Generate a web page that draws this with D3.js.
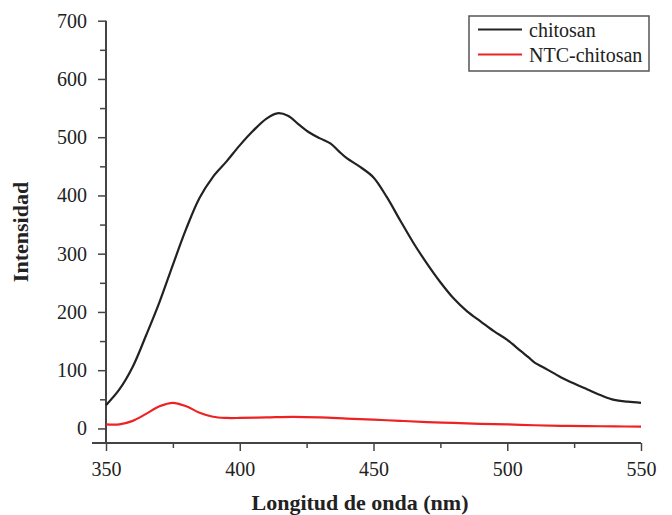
<!DOCTYPE html>
<html><head><meta charset="utf-8">
<script src="https://cdn.jsdelivr.net/npm/d3@7"></script>
<style>
body{margin:0;background:#fff;}
svg text{font-family:"Liberation Serif","Times New Roman",serif;fill:#222;}
</style></head>
<body>
<svg id="chart" width="672" height="515"></svg>
<script>
const chitosanX = [350,355,360,365,370,375,380,385,390,395,400,405,410,414,418,422,426,430,434,437,440,445,450,455,460,465,470,475,480,485,490,495,500,505,508,510,515,520,525,530,535,540,545,550];
const chitosanY = [40,67,106,160,217,281,343,396,432,458,486,511,532,541,537,522,508,498,489,476,464,449,431,397,357,318,283,251,223,201,184,167,152,133,122,114,101,88,77,67,57,49,46,44];
const ntcX = [350,355,360,365,370,375,380,385,390,395,400,410,420,430,440,450,460,470,480,490,500,510,520,530,540,550];
const ntcY = [7,7,13,25,38,44,38,27,20,18,18,19,20,19,17,15,13,11,9.5,8,7,5.5,4.5,4,3.5,3];
const seriesNames = ["chitosan","NTC-chitosan"];
const seriesColors = ["#222222","#ee2222"];
const xTicks = [350,400,450,500,550];
const xMinor = [375,425,475,525];
const yTicks = [0,100,200,300,400,500,600,700];
const yMinor = [50,150,250,350,450,550,650];
const xTitle = "Longitud de onda (nm)";
const yTitle = "Intensidad";

const svg = d3.select("#chart");
const x = d3.scaleLinear().domain([350,550]).range([106,641]);
const y = d3.scaleLinear().domain([-25,700]).range([443,20.7]);
const axisColor = "#444";

// X axis
const gx = svg.append("g").attr("transform","translate(0,443)");
gx.call(d3.axisBottom(x).tickValues(xTicks).tickSize(8).tickPadding(11).tickFormat(d3.format("d")));
gx.append("g").call(d3.axisBottom(x).tickValues(xMinor).tickSize(5).tickFormat(""));
gx.selectAll(".domain").remove();
gx.append("line").attr("x1",92).attr("x2",641).attr("stroke",axisColor).attr("stroke-width",2);
gx.selectAll(".tick line").attr("stroke",axisColor).attr("stroke-width",1.5);
gx.selectAll(".tick text").attr("font-size",20).style("font-family","'Liberation Serif',serif").attr("fill","#222");

// Y axis
const gy = svg.append("g").attr("transform","translate(106,0)");
gy.call(d3.axisLeft(y).tickValues(yTicks).tickSize(8).tickPadding(11).tickFormat(d3.format("d")));
gy.append("g").call(d3.axisLeft(y).tickValues(yMinor).tickSize(6).tickFormat(""));
gy.selectAll(".domain").remove();
gy.append("line").attr("y1",y(700)).attr("y2",443).attr("stroke",axisColor).attr("stroke-width",2);
gy.selectAll(".tick line").attr("stroke",axisColor).attr("stroke-width",1.5);
gy.selectAll(".tick text").attr("font-size",20).style("font-family","'Liberation Serif',serif").attr("fill","#222");

// Lines
const line = d3.line().x(d=>x(d[0])).y(d=>y(d[1])).curve(d3.curveCatmullRom.alpha(0.5));
const series = [d3.zip(chitosanX,chitosanY), d3.zip(ntcX,ntcY)];
series.forEach((s,i)=>{
  svg.append("path").datum(s).attr("d",line).attr("fill","none")
    .attr("stroke",seriesColors[i]).attr("stroke-width",2.2).attr("stroke-linejoin","round");
});

// Axis titles
svg.append("text").attr("x",360).attr("y",510).attr("text-anchor","middle")
  .attr("font-size",22).attr("font-weight","bold").text(xTitle);
svg.append("text").attr("transform","translate(28,232) rotate(-90)").attr("text-anchor","middle")
  .attr("font-size",22).attr("font-weight","bold").text(yTitle);

// Legend
const lg = svg.append("g");
lg.append("rect").attr("x",469).attr("y",16).attr("width",180).attr("height",55)
  .attr("fill","#fff").attr("stroke","#555").attr("stroke-width",1.5);
seriesNames.forEach((n,i)=>{
  const yy = 29.5 + i*25;
  lg.append("line").attr("x1",478).attr("x2",522).attr("y1",yy).attr("y2",yy)
    .attr("stroke",seriesColors[i]).attr("stroke-width",2);
  lg.append("text").attr("x",529).attr("y",yy+7).attr("font-size",20).text(n);
});
</script>
</body></html>
